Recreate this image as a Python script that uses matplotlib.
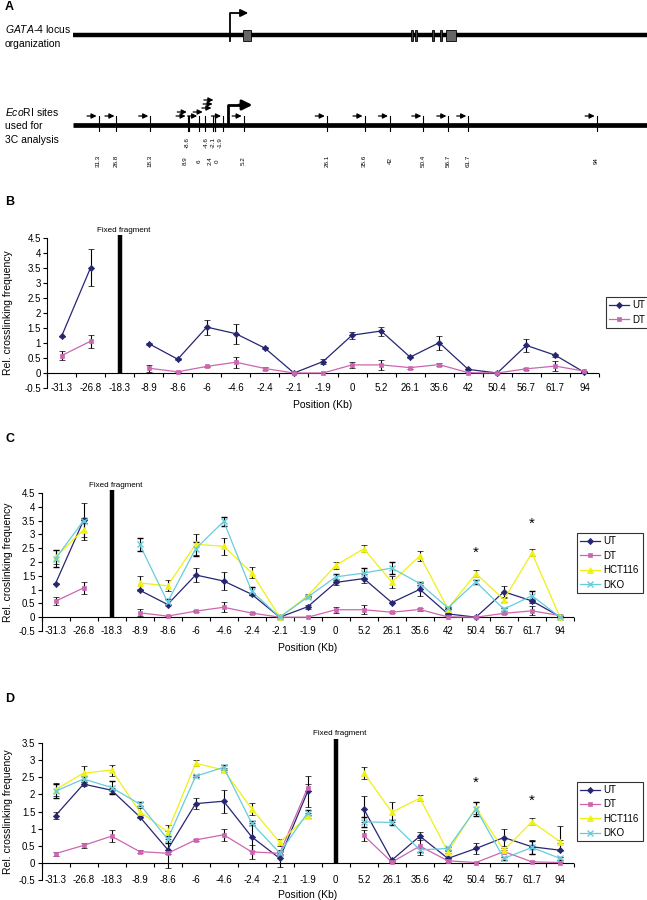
import numpy as np
import matplotlib.pyplot as plt
from matplotlib.patches import Rectangle
from matplotlib.lines import Line2D

plt.rcParams['font.family'] = ['Liberation Sans', 'DejaVu Sans']
plt.rcParams['mathtext.fontset'] = 'custom'
plt.rcParams['mathtext.it'] = 'Liberation Sans:italic'
plt.rcParams['mathtext.rm'] = 'Liberation Sans'

nan = np.nan

# ---- panel A: locus map (kb) ----
locus_start = -37.7
locus_end = 106.7
tss_kb = 1.76
exon_start = [5.0, 47.2, 48.2, 52.7, 54.7, 56.1]
exon_end = [7.0, 47.7, 48.7, 53.2, 55.2, 58.6]
exon_big = [True, False, False, False, False, True]

site_kb = [-31.3, -26.8, -18.3, -8.9, -8.6, -6, -4.6, -2.4, -2.1, -1.9, 0,
           5.2, 26.1, 35.6, 42, 50.4, 56.7, 61.7, 94]
site_text = ['31.3', '26.8', '18.3', '8.9', '-8.6', '6', '-4.6', '2.4', '-2.1',
             '-1.9', '0', '5.2', '26.1', '35.6', '42', '50.4', '56.7', '61.7', '94']
site_row = [1, 1, 1, 1, 0, 1, 0, 1, 0, 0, 1, 1, 1, 1, 1, 1, 1, 1, 1]
arrow_level = [0, 0, 0, 0, 1, 0, 1, 2, 3, 4, 0, 0, 0, 0, 0, 0, 0, 0, 0]
# label nudges (px) in the crowded cluster so the labels don't collide
label_dx = [0, 0, 0, -2.5, -1.5, 0, 1.3, -3.5, -1.7, 4.6, -6, 0, 0, 0, 0, 0, 0, 0, 0]

# ---- panels B-D: 3C data ----
positions = ['-31.3', '-26.8', '-18.3', '-8.9', '-8.6', '-6', '-4.6', '-2.4', '-2.1',
             '-1.9', '0', '5.2', '26.1', '35.6', '42', '50.4', '56.7', '61.7', '94']

ut_bc = [1.22, 3.51, nan, 0.98, 0.46, 1.53, 1.31, 0.83, 0.0, 0.38, 1.26, 1.40, 0.53,
         1.01, 0.12, 0.0, 0.92, 0.59, 0.02]
ut_bc_err = [0.03, 0.62, nan, 0.03, 0.03, 0.25, 0.33, 0.03, 0.0, 0.08, 0.11, 0.15,
             0.03, 0.23, 0.03, 0.0, 0.22, 0.06, 0.02]
dt_bc = [0.58, 1.06, nan, 0.16, 0.04, 0.22, 0.36, 0.15, 0.0, 0.0, 0.27, 0.27, 0.18,
         0.28, 0.01, 0.0, 0.14, 0.23, 0.06]
dt_bc_err = [0.14, 0.21, nan, 0.12, 0.02, 0.03, 0.18, 0.04, 0.0, 0.01, 0.1, 0.16,
             0.03, 0.04, 0.01, 0.0, 0.03, 0.16, 0.02]
hct_c = [2.18, 3.17, nan, 1.24, 1.14, 2.64, 2.57, 1.61, 0.0, 0.78, 1.88, 2.48, 1.27,
         2.22, 0.31, 1.58, 0.64, 2.33, 0.0]
hct_c_err = [0.25, 0.38, nan, 0.24, 0.2, 0.37, 0.3, 0.2, 0.0, 0.05, 0.12, 0.13, 0.23,
             0.17, 0.03, 0.14, 0.08, 0.13, 0.0]
dko_c = [2.12, 3.5, nan, 2.64, 0.55, 2.48, 3.47, 0.94, 0.0, 0.73, 1.46, 1.6, 1.78,
         1.22, 0.34, 1.28, 0.29, 0.78, 0.0]
dko_c_err = [0.3, 0.1, nan, 0.24, 0.1, 0.25, 0.17, 0.15, 0.0, 0.05, 0.12, 0.17, 0.23,
             0.05, 0.03, 0.07, 0.05, 0.17, 0.0]

ut_d = [1.38, 2.30, 2.12, 1.35, 0.39, 1.73, 1.80, 0.76, 0.13, 2.09, nan, 1.57, 0.08,
        0.78, 0.13, 0.42, 0.74, 0.47, 0.37]
ut_d_lo = [0.1, 0.05, 0.08, 0.05, 0.55, 0.15, 0.33, 0.4, 0.25, 0.45, nan, 0.37, 0.03,
           0.12, 0.02, 0.17, 0.26, 0.2, 0.02]
ut_d_hi = [0.1, 0.05, 0.08, 0.05, 0.55, 0.15, 0.33, 0.4, 0.25, 0.45, nan, 0.37, 0.03,
           0.12, 0.02, 0.17, 0.26, 0.2, 0.72]
dt_d = [0.27, 0.51, 0.78, 0.33, 0.28, 0.67, 0.82, 0.32, 0.28, 2.2, nan, 0.8, 0.02,
        0.49, 0.06, 0.01, 0.33, 0.03, 0.01]
dt_d_err = [0.06, 0.07, 0.17, 0.05, 0.03, 0.03, 0.17, 0.2, 0.03, 0.1, nan, 0.15, 0.02,
            0.25, 0.02, 0.01, 0.04, 0.02, 0.01]
hct_d = [2.14, 2.62, 2.71, 1.5, 0.91, 2.91, 2.71, 1.58, 0.6, 1.38, nan, 2.63, 1.48,
         1.89, 0.33, 1.6, 0.37, 1.2, 0.62]
hct_d_err = [0.2, 0.2, 0.16, 0.1, 0.2, 0.09, 0.05, 0.18, 0.1, 0.08, nan, 0.17, 0.3,
             0.08, 0.03, 0.17, 0.05, 0.1, 0.05]
dko_d = [2.09, 2.45, 2.2, 1.72, 0.69, 2.53, 2.79, 1.16, 0.29, 1.47, nan, 1.2, 1.18,
         0.38, 0.42, 1.58, 0.13, 0.45, 0.13]
dko_d_err = [0.2, 0.1, 0.18, 0.05, 0.1, 0.03, 0.08, 0.05, 0.05, 0.07, nan, 0.15, 0.07,
             0.05, 0.03, 0.2, 0.05, 0.19, 0.05]

stars_c = [(15, 2.32), (17, 3.4)]
stars_d = [(15, 2.34), (17, 1.81)]

UT_C, DT_C, HCT_C, DKO_C = '#262673', '#CC66B0', '#F0F014', '#66CCDD'

W, H = 647, 900
fig = plt.figure(figsize=(W / 100, H / 100), dpi=100)


def fx(px):
    return px / W


def fy(py):
    return 1 - py / H


# ---------------- panel A ----------------
PX_PER_KB = 3.975
fig.text(fx(5), fy(1), 'A', fontsize=9, fontweight='bold', va='top')
ax_a = fig.add_axes([0, fy(200), 1, 200 / H])
ax_a.set_xlim((0 - 223) / PX_PER_KB, (W - 223) / PX_PER_KB)
ax_a.set_ylim(200, 0)
ax_a.axis('off')
x_txt = (5 - 223) / PX_PER_KB

# gene structure
ax_a.plot([locus_start, locus_end], [35, 35], color='black', lw=3.2, solid_capstyle='butt')
for s, e, big in zip(exon_start, exon_end, exon_big):
    ax_a.add_patch(Rectangle((s, 30), e - s, 11, facecolor='#666666' if big else '#444444',
                             edgecolor='black', lw=0.6, zorder=3))
ax_a.plot([tss_kb, tss_kb, tss_kb + 3.2], [41, 13, 13], color='black', lw=1.3, zorder=4)
ax_a.annotate('', xy=(tss_kb + 4.6, 13), xytext=(tss_kb + 2.5, 13),
              arrowprops=dict(arrowstyle='-|>,head_length=0.45,head_width=0.22',
                              color='black', lw=1.3, shrinkA=0, shrinkB=0))
ax_a.text(x_txt, 29, r'$\mathit{GATA}$-$\mathit{4}$ locus', fontsize=7.5, va='center', ha='left')
ax_a.text(x_txt, 44, 'organization', fontsize=7.5, va='center', ha='left')

# EcoRI sites
ax_a.plot([locus_start, locus_end], [125, 125], color='black', lw=3.4, solid_capstyle='butt')
ax_a.text(x_txt, 112, r'$\mathit{Eco}$RI sites', fontsize=7.5, va='center', ha='left')
ax_a.text(x_txt, 126, 'used for', fontsize=7.5, va='center', ha='left')
ax_a.text(x_txt, 140, '3C analysis', fontsize=7.5, va='center', ha='left')
for kb, txt, row, lev, dx in zip(site_kb, site_text, site_row, arrow_level, label_dx):
    ax_a.plot([kb, kb], [116, 131], color='black', lw=0.8)
    y = 116 - 4 * lev
    ax_a.annotate('', xy=(kb - 0.5, y), xytext=(kb - 2.9, y),
                  arrowprops=dict(arrowstyle='-|>,head_length=0.3,head_width=0.15',
                                  color='black', lw=0.9, shrinkA=0, shrinkB=0))
    ax_a.text(kb + dx / PX_PER_KB, 143 if row == 0 else 161, txt, rotation=90,
              fontsize=4.5, ha='center', va='center')
ax_a.plot([1.3, 1.3, 4.5], [125, 105, 105], color='black', lw=2, zorder=4)
ax_a.annotate('', xy=(7.4, 105), xytext=(4.0, 105),
              arrowprops=dict(arrowstyle='-|>,head_length=0.6,head_width=0.3',
                              color='black', lw=2, shrinkA=0, shrinkB=0))


# ---------------- panels B-D ----------------
def panel(rect, series, ytop, fixed_idx, fixed_top, ylabel, xlabel_y, leg_left, leg_cy,
          stars=()):
    ax = fig.add_axes(rect)
    x = np.arange(len(positions))
    handles = []
    for name, vals, err, color, marker, ms in series:
        mew = 1.0 if marker == 'x' else 0.5
        ax.errorbar(x, vals, yerr=err, color=color, marker=marker, ms=ms, lw=0.9,
                    mec=color, mew=mew, ecolor='black', elinewidth=0.8,
                    capsize=2.2, capthick=0.8, zorder=3)
        handles.append(Line2D([], [], color=color, marker=marker, ms=ms, lw=0.9,
                              mec=color, mew=mew, label=name))
    ax.set_xlim(-0.5, len(positions) - 0.5)
    ax.set_ylim(-0.5, ytop)
    for sp in ['top', 'right', 'bottom']:
        ax.spines[sp].set_visible(False)
    ax.spines['left'].set_linewidth(0.8)
    ax.axhline(0, color='black', lw=0.8, zorder=2)
    ax.plot(np.arange(-0.5, len(positions)), np.zeros(len(positions) + 1), ls='none',
            marker=3, ms=3, mew=0.8, color='black', clip_on=False)
    ax.set_xticks(x)
    ax.set_xticklabels(positions)
    ax.tick_params(axis='x', length=0, pad=0, labelsize=7)
    for lbl in ax.get_xticklabels():
        lbl.set_va('center')
    yt = np.arange(-0.5, ytop + 0.01, 0.5)
    ax.set_yticks(yt)
    ax.set_yticklabels([f'{v:g}' for v in yt])
    ax.tick_params(axis='y', direction='out', length=3, width=0.8, labelsize=7, pad=1.5)
    ax.vlines(fixed_idx, 0, fixed_top, color='black', lw=3.2, clip_on=False, zorder=4)
    ax.text(fixed_idx + 0.15, fixed_top + 0.05, 'Fixed fragment', fontsize=5.8,
            ha='center', va='bottom', clip_on=False)
    for sx, sy in stars:
        ax.text(sx, sy, '*', fontsize=11, ha='center', va='center')
    ax.set_ylabel(ylabel, fontsize=7.5)
    ax.yaxis.set_label_coords(fx(8 - rect[0] * W) / rect[2], 0.5)
    ax.yaxis.label.set_va('center')
    ax.set_xlabel('Position (Kb)', fontsize=7.5)
    ax_h = rect[3] * H
    ax.xaxis.set_label_coords(0.5, -(xlabel_y - (1 - rect[1]) * H) / ax_h)
    ax.xaxis.label.set_va('center')
    leg = ax.legend(handles=handles, loc='center left', bbox_to_anchor=(leg_left, leg_cy),
                    bbox_transform=fig.transFigure, fontsize=7, frameon=True,
                    fancybox=False, edgecolor='black', borderaxespad=0,
                    handlelength=2.0, handletextpad=0.4, labelspacing=0.45,
                    borderpad=0.35)
    leg.get_frame().set_linewidth(0.8)
    return ax


# B
panel([fx(47), fy(388), 552 / W, 150 / H],
      [('UT', ut_bc, ut_bc_err, UT_C, 'D', 3.2),
       ('DT', dt_bc, dt_bc_err, DT_C, 's', 3.2)],
      4.5, 2, 4.6, 'Rel. crosslinking frequency', 405, fx(606), fy(312.5))
fig.text(fx(5), fy(196), 'B', fontsize=9, fontweight='bold', va='top')

# C
panel([fx(41.5), fy(631), 532.5 / W, 138 / H],
      [('UT', ut_bc, ut_bc_err, UT_C, 'D', 3.2),
       ('DT', dt_bc, dt_bc_err, DT_C, 's', 3.2),
       ('HCT116', hct_c, hct_c_err, HCT_C, '^', 3.8),
       ('DKO', dko_c, dko_c_err, DKO_C, 'x', 3.8)],
      4.5, 2, 4.6, 'Rel. croslinking frequency', 648, fx(577), fy(563), stars=stars_c)
fig.text(fx(5), fy(433), 'C', fontsize=9, fontweight='bold', va='top')

# D
panel([fx(41.5), fy(880), 532.5 / W, 137 / H],
      [('UT', ut_d, [ut_d_lo, ut_d_hi], UT_C, 'D', 3.2),
       ('DT', dt_d, dt_d_err, DT_C, 's', 3.2),
       ('HCT116', hct_d, hct_d_err, HCT_C, '^', 3.8),
       ('DKO', dko_d, dko_d_err, DKO_C, 'x', 3.8)],
      3.5, 10, 3.62, 'Rel. crosslinking frequency', 895, fx(577), fy(811.5), stars=stars_d)
fig.text(fx(5), fy(693), 'D', fontsize=9, fontweight='bold', va='top')

fig.savefig('out.png', dpi=100)
